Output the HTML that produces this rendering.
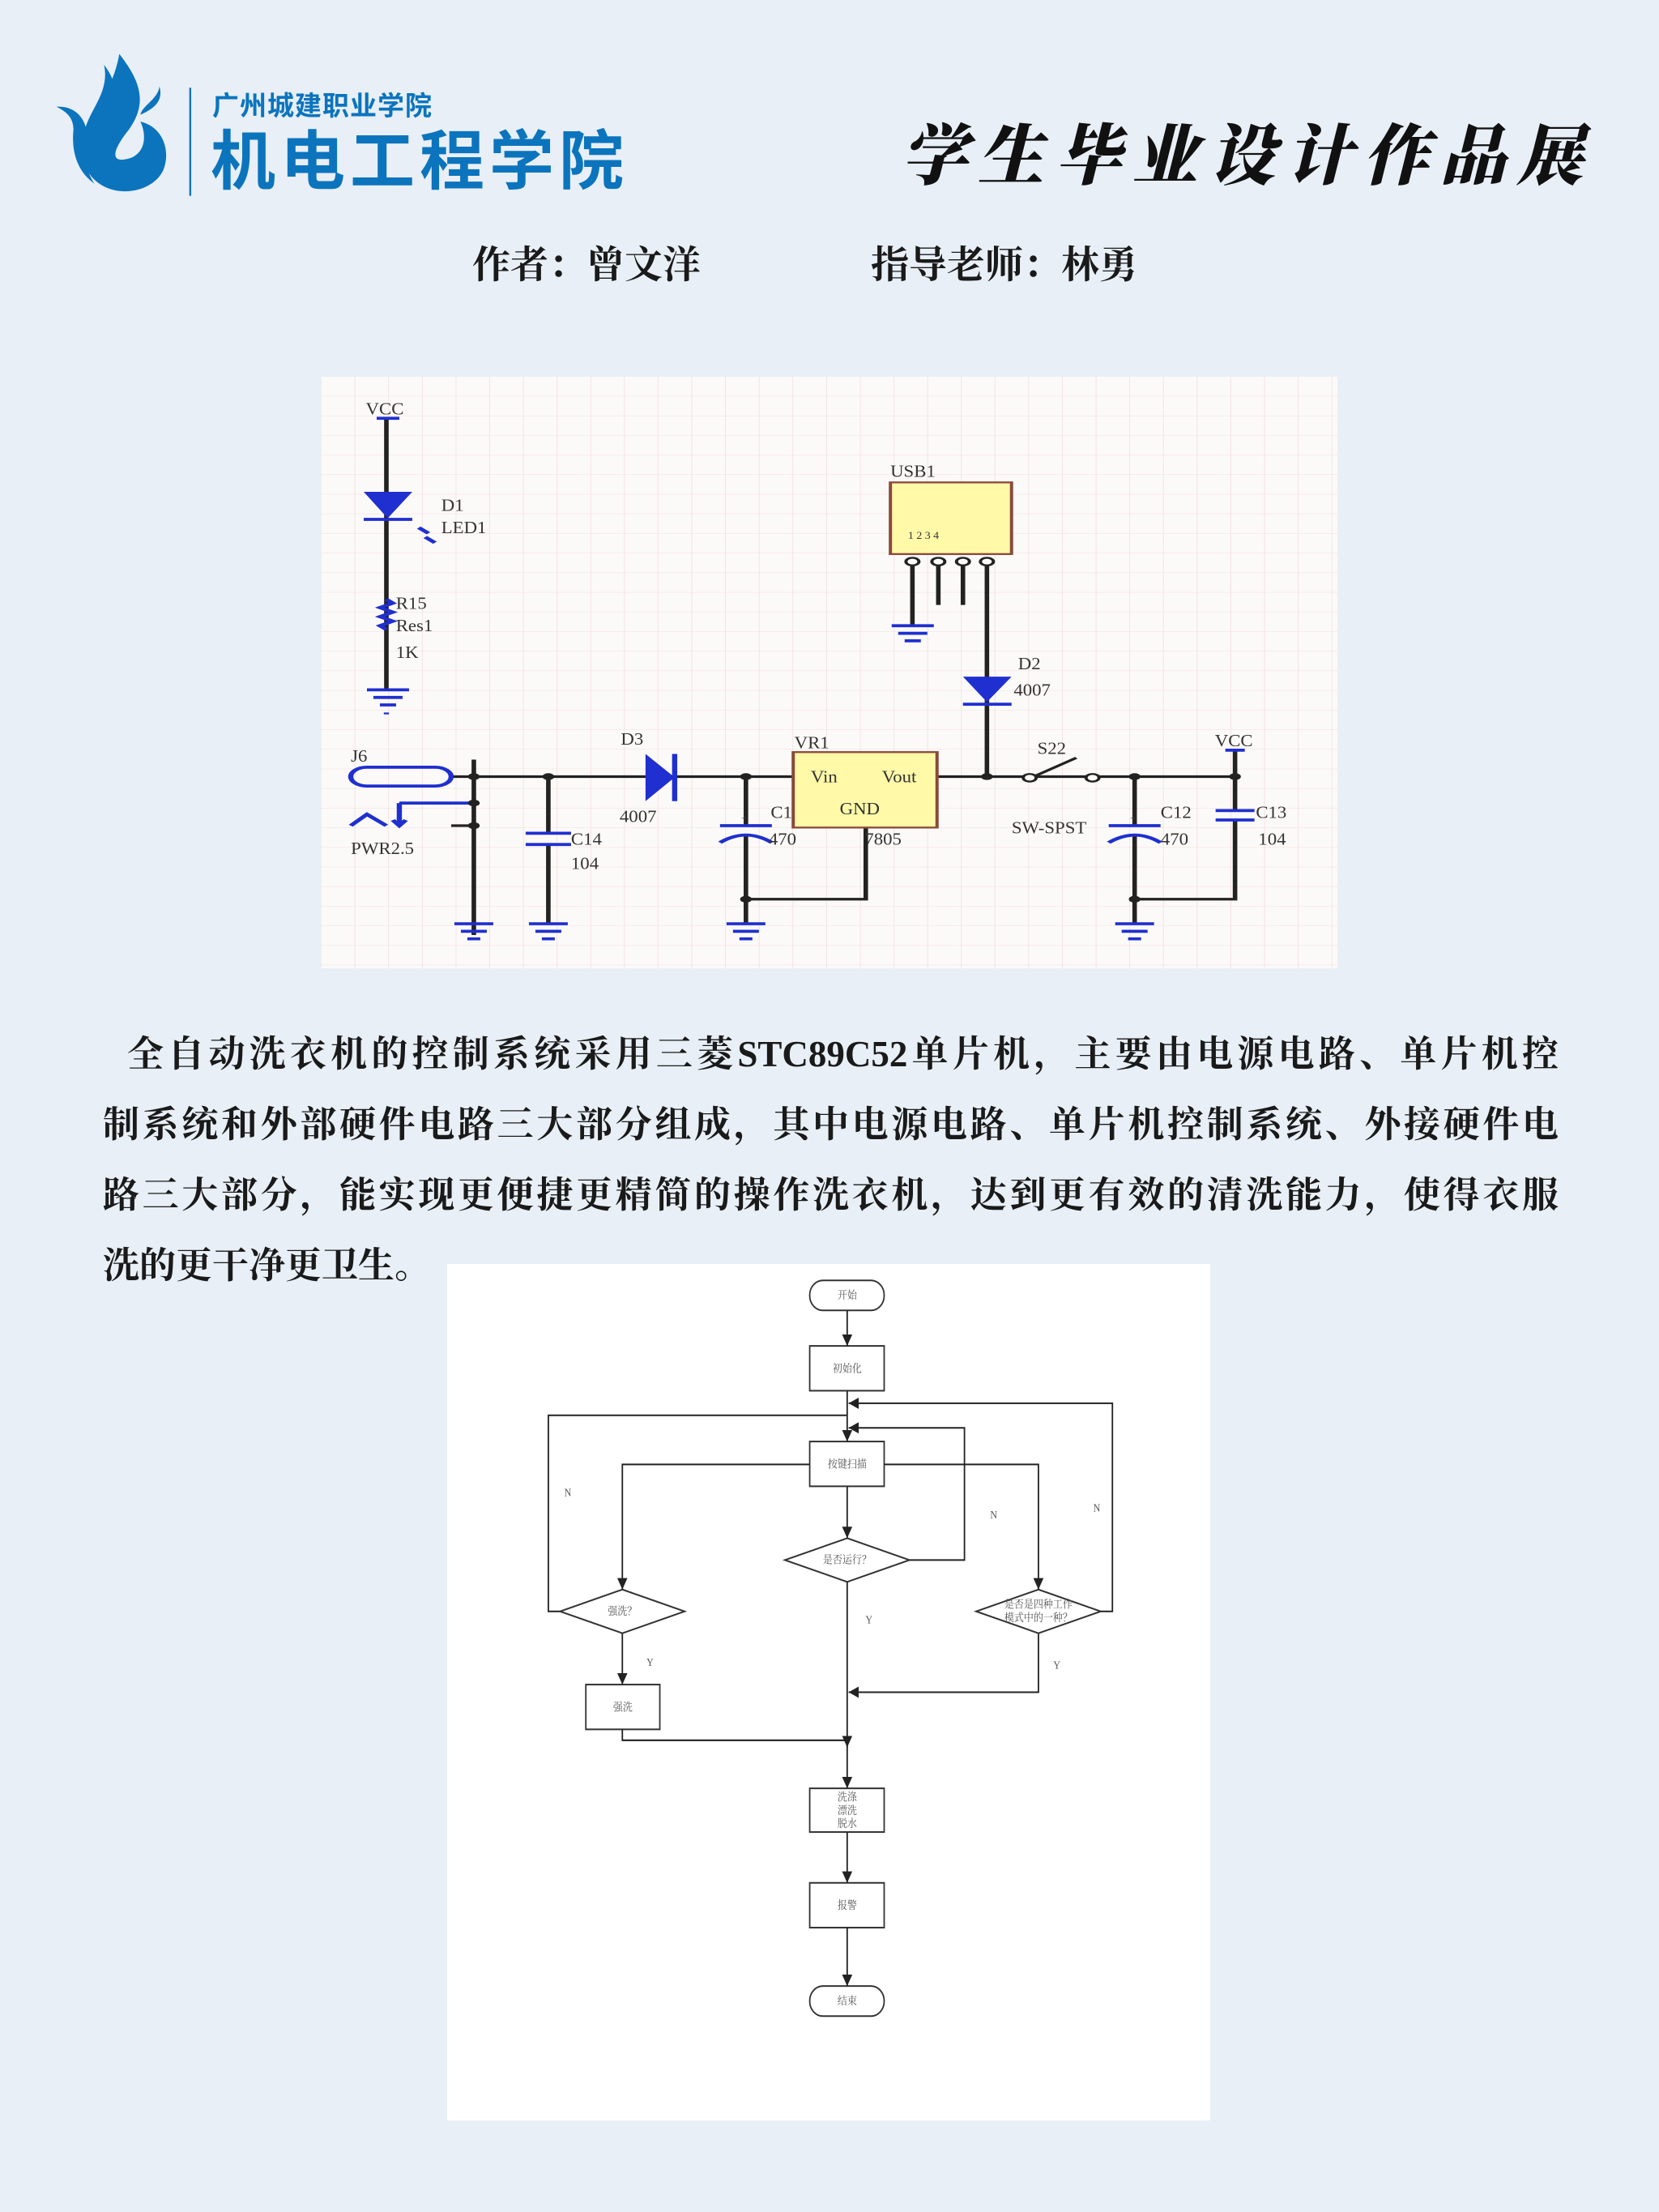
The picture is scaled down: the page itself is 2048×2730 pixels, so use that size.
<!DOCTYPE html>
<html><head><meta charset="utf-8">
<style>
*{margin:0;padding:0;box-sizing:border-box}
body{width:2048px;height:2730px;background:#e8eff6;position:relative;overflow:hidden;font-family:"Liberation Serif","Noto Serif CJK SC",serif}
.abs{position:absolute;white-space:nowrap}
.p{position:absolute;left:127px;width:1797px;font-size:45px;color:#1a1a1a;font-weight:bold;font-family:"Liberation Serif","Noto Serif CJK SC",serif;text-align:justify;text-align-last:justify;white-space:nowrap;line-height:60px}
</style></head><body>

<svg class="abs" style="left:60px;top:60px" width="740" height="200" viewBox="0 0 1568 600" preserveAspectRatio="none">
<g fill="#0b74bd">
<path d="M185 20 C240 120 260 200 210 300 C170 370 160 420 200 410 C250 400 260 330 240 270 C300 290 320 380 300 450 C270 540 160 560 110 470 C60 380 100 260 150 160 C170 110 180 60 185 20Z"/>
<path d="M145 60 C190 140 180 230 140 300 C110 360 110 420 135 430 C100 450 80 380 95 300 C110 220 160 160 145 60Z"/>
<path d="M20 215 C90 210 110 300 100 380 C95 440 110 480 120 500 C70 450 60 370 65 300 C65 260 50 235 20 215Z"/>
<path d="M290 140 C300 190 280 220 240 245 C245 210 285 190 290 140Z"/>
</g>
<rect x="368" y="145" width="5" height="400" fill="#0b74bd"/>
</svg>
<div class="abs" style="left:262px;top:104px;font-size:33px;color:#0b74bd;font-family:'Liberation Sans','Noto Sans CJK SC',sans-serif;font-weight:bold;letter-spacing:1px">广州城建职业学院</div>
<div class="abs" style="left:260px;top:150px;font-size:80px;line-height:100px;color:#0b74bd;font-family:'Liberation Sans','Noto Sans CJK SC',sans-serif;font-weight:bold;letter-spacing:6px">机电工程学院</div>

<div class="abs" style="left:1112px;top:132px;font-size:82px;line-height:110px;color:#111;font-family:'Noto Serif CJK SC',serif;font-weight:900;letter-spacing:13px;font-style:italic">学生毕业设计作品展</div>

<div class="abs" style="left:583px;top:298px;font-size:47px;line-height:60px;color:#1a1a1a;font-weight:bold;font-family:'Liberation Serif','Noto Serif CJK SC',serif">作者：曾文洋</div>
<div class="abs" style="left:1075px;top:298px;font-size:47px;line-height:60px;color:#1a1a1a;font-weight:bold;font-family:'Liberation Serif','Noto Serif CJK SC',serif">指导老师：林勇</div>

<svg class="abs" style="left:397px;top:465px" width="1254" height="730" viewBox="0 0 1568 1568" preserveAspectRatio="none">
<defs><pattern id="g" width="52" height="52" patternUnits="userSpaceOnUse"><path d="M52 0V52H0" fill="none" stroke="#f0dede" stroke-width="2"/></pattern></defs>
<rect width="1568" height="1568" fill="#fcfaf8"/>
<rect width="1568" height="1568" fill="url(#g)"/>
<g stroke="#222" stroke-width="7" fill="none">
<path d="M100 110V830"/>
<path d="M200 1060H1410"/>
<path d="M235 1015V1480"/>
<path d="M350 1060V1210M350 1240V1450"/>
<path d="M655 1060V1190M655 1215V1450M655 1385H840V1195"/>
<path d="M912 500V660M952 500V605M990 500V605M1027 500V1060"/>
<path d="M1255 1060V1190M1255 1215V1450M1255 1385H1410V1175M1410 990V1150"/>
<path d="M200 1130H235M200 1190H235"/>
</g>
<g stroke="#1f2fd0" stroke-width="8" fill="none">
<path d="M85 110H120M1395 990H1425"/>
<path d="M70 830H135M80 850H125M90 870H115M100 890V895"/>
<path d="M205 1450H265M215 1470H255M225 1490H245"/>
<path d="M320 1450H380M330 1470H370M340 1490H360"/>
<path d="M625 1450H685M635 1470H675M645 1490H665"/>
<path d="M1225 1450H1285M1235 1470H1275M1245 1490H1265"/>
<path d="M880 660H945M890 680H935M900 700H925"/>
<path d="M100 590l10 10-20 12 20 12-20 12 20 12-20 12 10 10"/>
<path d="M315 1210H385M315 1240H385"/>
<path d="M615 1190H695M615 1235Q655 1195 695 1235"/>
<path d="M1215 1190H1295M1215 1235Q1255 1195 1295 1235"/>
<path d="M1380 1150H1440M1380 1175H1440"/>
<path d="M65 378H140M990 868H1065M545 1000V1125"/>
<rect x="45" y="1035" width="155" height="50" rx="25"/>
<path d="M45 1190L70 1160L100 1190M120 1130V1190M110 1175L120 1190L130 1175M120 1130H235"/>
<path d="M150 400l15 15M160 425l15 15"/>
</g>
<g fill="#1f2fd0">
<path d="M65 305H140L102 375Z"/>
<path d="M990 795H1065L1027 862Z"/>
<path d="M500 1000V1125L545 1062Z"/>
</g>
<rect x="878" y="280" width="187" height="190" fill="#fff9a8" stroke="#8a4a3a" stroke-width="5"/>
<rect x="728" y="995" width="222" height="200" fill="#fff9a8" stroke="#8a4a3a" stroke-width="5"/>
<g fill="#fff" stroke="#222" stroke-width="5">
<circle cx="912" cy="490" r="10"/><circle cx="952" cy="490" r="10"/><circle cx="990" cy="490" r="10"/><circle cx="1027" cy="490" r="10"/>
<circle cx="1093" cy="1063" r="10"/><circle cx="1190" cy="1063" r="10"/>
</g>
<path d="M1103 1057L1165 1010" stroke="#222" stroke-width="6"/>
<g fill="#222"><circle cx="235" cy="1060" r="9"/><circle cx="350" cy="1060" r="9"/><circle cx="655" cy="1060" r="9"/><circle cx="1027" cy="1060" r="9"/><circle cx="1255" cy="1060" r="9"/><circle cx="1410" cy="1060" r="9"/><circle cx="235" cy="1130" r="9"/><circle cx="235" cy="1190" r="9"/><circle cx="655" cy="1385" r="9"/><circle cx="1255" cy="1385" r="9"/></g>
<g transform="scale(0.7,1)" font-family="Liberation Serif,serif" font-size="46" fill="#333">
<g transform="scale(1.4286,1)">
</g>
</g>
<g font-family="Liberation Serif,serif" font-size="46" fill="#333" transform="scale(1,1)">
<g transform="matrix(0.62,0,0,1,0,0)">
<text x="110" y="100">VCC</text><text x="2224" y="980">VCC</text>
<text x="298" y="355">D1</text><text x="298" y="415">LED1</text>
<text x="185" y="615">R15</text><text x="185" y="675">Res1</text><text x="185" y="745">1K</text>
<text x="1416" y="265">USB1</text>
<text x="1734" y="775">D2</text><text x="1723" y="845">4007</text>
<text x="73" y="1020">J6</text><text x="73" y="1265">PWR2.5</text>
<text x="745" y="975">D3</text><text x="742" y="1180">4007</text>
<text x="621" y="1240">C14</text><text x="621" y="1305">104</text>
<text x="1118" y="1170">C1</text><text x="1113" y="1240">470</text>
<text x="1177" y="985">VR1</text><text x="1218" y="1075">Vin</text><text x="1395" y="1075">Vout</text><text x="1290" y="1160">GND</text><text x="1352" y="1240">7805</text>
<text x="1782" y="1000">S22</text><text x="1718" y="1210">SW-SPST</text>
<text x="2089" y="1170">C12</text><text x="2089" y="1240">470</text>
<text x="2326" y="1170">C13</text><text x="2332" y="1240">104</text>
<text x="1460" y="430" font-size="28">1 2 3 4</text>
<text x="1045" y="1180" font-size="30">+</text><text x="2013" y="1180" font-size="30">+</text>
</g>
</g>
</svg>

<div class="p" style="top:1271px;padding-left:30px">全自动洗衣机的控制系统采用三菱STC89C52单片机，主要由电源电路、单片机控</div>
<div class="p" style="top:1358px">制系统和外部硬件电路三大部分组成，其中电源电路、单片机控制系统、外接硬件电</div>
<div class="p" style="top:1445px">路三大部分，能实现更便捷更精简的操作洗衣机，达到更有效的清洗能力，使得衣服</div>
<div class="p" style="top:1532px;text-align-last:left;width:auto">洗的更干净更卫生。</div>

<svg class="abs" style="left:552px;top:1560px" width="942" height="1057" viewBox="0 0 1568 1568" preserveAspectRatio="none">
<rect width="1568" height="1568" fill="#fff"/>
<defs><marker id="a" viewBox="0 0 10 10" refX="10" refY="5" markerWidth="7" markerHeight="7" orient="auto"><path d="M0 0L10 5L0 10Z" fill="#222"/></marker></defs>
<g stroke="#333" stroke-width="3" fill="none">
<rect x="745" y="30" width="153" height="55" rx="27"/>
<rect x="745" y="150" width="153" height="82"/>
<rect x="745" y="325" width="153" height="82"/>
<rect x="285" y="770" width="152" height="82"/>
<rect x="745" y="960" width="153" height="80"/>
<rect x="745" y="1133" width="153" height="82"/>
<rect x="745" y="1322" width="153" height="55" rx="27"/>
<path d="M822 502L950 542L822 582L694 542Z"/>
<path d="M360 596L488 636L360 676L232 636Z"/>
<path d="M1215 596L1343 636L1215 676L1087 636Z"/>
</g>
<g stroke="#222" stroke-width="3" fill="none" marker-end="url(#a)">
<path d="M822 85V150"/>
<path d="M822 232V325"/>
<path d="M822 407V502"/>
<path d="M745 367H360V596"/>
<path d="M898 367H1215V596"/>
<path d="M950 542H1063V300H825"/>
<path d="M1343 636H1367V255H825"/>
<path d="M360 676V770"/>
<path d="M1215 676V784H825"/>
<path d="M822 582V885"/>
<path d="M360 852V872H822V960"/>
<path d="M822 1040V1133"/>
<path d="M822 1215V1322"/>
</g>
<path d="M232 636H208V277H822" stroke="#222" stroke-width="3" fill="none"/>
<g font-family="Liberation Serif,'Noto Serif CJK SC',serif" font-size="20" fill="#555" text-anchor="middle">
<text x="822" y="64">开始</text><text x="822" y="198">初始化</text><text x="822" y="373">按键扫描</text>
<text x="822" y="548">是否运行？</text><text x="360" y="642">强洗？</text>
<text x="1215" y="630">是否是四种工作</text><text x="1215" y="654">模式中的一种？</text>
<text x="361" y="818">强洗</text>
<text x="822" y="983">洗涤</text><text x="822" y="1007">漂洗</text><text x="822" y="1031">脱水</text>
<text x="822" y="1181">报警</text><text x="822" y="1356">结束</text>
<text x="248" y="425">N</text><text x="1123" y="466">N</text><text x="1335" y="453">N</text>
<text x="417" y="736">Y</text><text x="867" y="658">Y</text><text x="1253" y="741">Y</text>
</g>
</svg>
</body></html>
